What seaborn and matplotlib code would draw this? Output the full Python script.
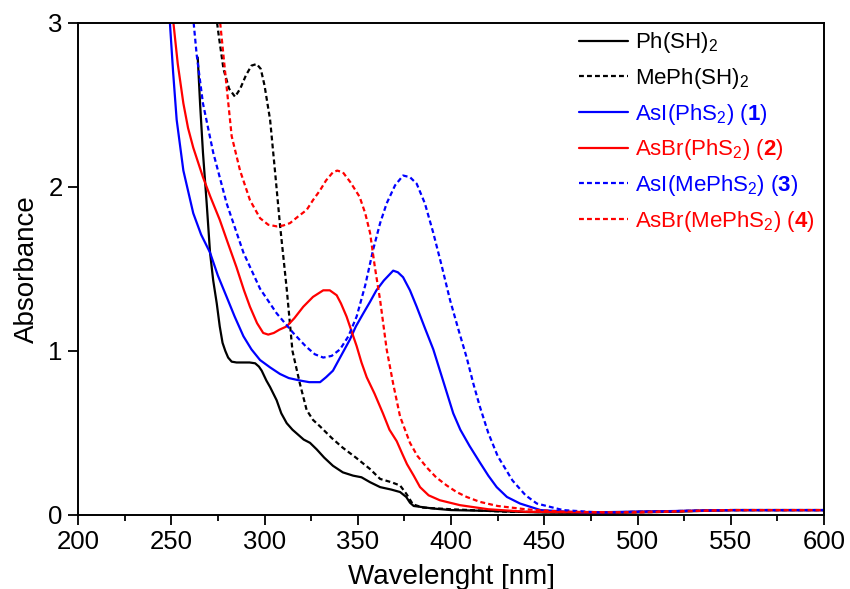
import pandas as pd
import matplotlib
matplotlib.use('Agg')
import matplotlib.pyplot as plt
import seaborn as sns

# 光谱数据
ph_x = [264.2, 265.5, 267, 269, 270.8, 272.5, 274.4, 276, 277.5, 279, 280.5, 282.4, 285, 288, 292, 295,
        297, 298.5, 301, 303, 306.5, 309, 311.9, 315, 318, 321, 324.4, 328, 332, 336.7, 342, 347.5, 352,
        356.6, 362, 368, 372.7, 376, 378, 380, 390, 400, 420, 450, 480, 520, 550, 600]
ph_y = [2.79, 2.5, 2.21, 1.9, 1.60, 1.43, 1.29, 1.15, 1.05, 1.0, 0.96, 0.935, 0.93, 0.93, 0.93, 0.925,
        0.905, 0.88, 0.82, 0.78, 0.70, 0.62, 0.56, 0.52, 0.49, 0.46, 0.44, 0.40, 0.35, 0.30, 0.26, 0.24, 0.23,
        0.20, 0.17, 0.155, 0.14, 0.11, 0.075, 0.055, 0.04, 0.03, 0.025, 0.015, 0.012, 0.02, 0.03, 0.03]

meph_x = [274, 275.5, 278, 281, 284.2, 287, 290, 293, 295.8, 298, 300, 303, 305.6, 308.3, 311.9, 315, 319,
          322.6, 326, 329.8, 336, 342, 349, 356.6, 362, 368, 372.7, 376, 379.6, 385, 400, 430, 480, 550, 600]
meph_y = [3.05, 2.92, 2.72, 2.6, 2.55, 2.6, 2.68, 2.74, 2.75, 2.72, 2.62, 2.41, 2.10, 1.77, 1.38, 1.0, 0.80,
          0.64, 0.58, 0.54, 0.47, 0.41, 0.35, 0.28, 0.22, 0.20, 0.18, 0.13, 0.065, 0.045, 0.035, 0.02, 0.015,
          0.03, 0.03]

c1_x = [249, 251, 252.9, 256.5, 261.8, 266, 270.8, 275, 279.7, 284, 288.7, 293, 297.6, 303, 308.3, 313, 319,
        324, 329.8, 333, 336.7, 341, 345.8, 349, 353, 356.6, 360, 364, 369, 371.5, 374.3, 378, 381.6, 386,
        390.5, 396, 401.2, 405, 410, 415.5, 420, 424.5, 430, 437, 448, 470, 550, 600]
c1_y = [3.05, 2.7, 2.41, 2.10, 1.84, 1.71, 1.60, 1.46, 1.33, 1.21, 1.09, 1.01, 0.945, 0.90, 0.86, 0.835, 0.82,
        0.81, 0.81, 0.84, 0.88, 0.97, 1.07, 1.15, 1.23, 1.30, 1.37, 1.43, 1.49, 1.48, 1.45, 1.37, 1.27, 1.14,
        1.01, 0.81, 0.62, 0.52, 0.42, 0.32, 0.24, 0.17, 0.11, 0.07, 0.03, 0.015, 0.03, 0.03]

c2_x = [250.7, 253.5, 256.5, 259, 261.8, 267, 271, 276, 280, 285, 289, 292.2, 296, 299.3, 302, 305, 308,
        311.9, 316, 320.8, 326, 331.5, 335, 338.7, 341, 344, 346.7, 349.4, 352, 354.8, 359, 363.5, 367,
        370.9, 374, 376.4, 380, 383.4, 388, 394, 404.8, 420, 440, 480, 550, 600]
c2_y = [3.05, 2.75, 2.51, 2.36, 2.24, 2.06, 1.94, 1.80, 1.67, 1.51, 1.37, 1.27, 1.17, 1.11, 1.10, 1.11, 1.13,
        1.15, 1.20, 1.27, 1.33, 1.37, 1.37, 1.34, 1.29, 1.21, 1.12, 1.03, 0.93, 0.84, 0.74, 0.62, 0.52,
        0.45, 0.37, 0.31, 0.24, 0.17, 0.12, 0.09, 0.06, 0.035, 0.02, 0.015, 0.03, 0.03]

c3_x = [261.6, 263.6, 267, 272.5, 279.7, 288.7, 297.6, 306.5, 315.4, 322, 327, 331.5, 336, 340.5, 345,
        349.4, 354, 358.3, 362, 365.5, 370, 374.3, 378, 381.6, 386, 390.5, 395, 399.5, 404, 408.4, 412,
        415.5, 420, 425, 433, 440, 446, 460, 480, 550, 600]
c3_y = [3.05, 2.81, 2.51, 2.21, 1.90, 1.60, 1.38, 1.23, 1.11, 1.03, 0.98, 0.96, 0.97, 1.01, 1.09,
        1.21, 1.40, 1.62, 1.78, 1.90, 2.01, 2.07, 2.06, 2.02, 1.90, 1.72, 1.52, 1.31, 1.13, 0.96, 0.80,
        0.66, 0.50, 0.36, 0.21, 0.12, 0.07, 0.03, 0.015, 0.03, 0.03]

c4_x = [275.8, 279.7, 282.4, 286.9, 292.2, 297.6, 302, 306.5, 310, 313.7, 318, 322.6, 326, 329.8, 333,
        336.7, 339, 342, 346, 351, 354, 356.6, 359.2, 362, 365.5, 369, 372.7, 378, 382, 387, 392, 397.7,
        403, 408.4, 415.5, 425, 440, 460, 500, 550, 600]
c4_y = [3.05, 2.61, 2.31, 2.10, 1.92, 1.81, 1.77, 1.76, 1.765, 1.78, 1.82, 1.86, 1.92, 1.98, 2.04,
        2.09, 2.10, 2.09, 2.03, 1.94, 1.84, 1.72, 1.51, 1.31, 1.01, 0.80, 0.60, 0.44, 0.36, 0.29, 0.23, 0.18,
        0.14, 0.11, 0.08, 0.055, 0.035, 0.02, 0.015, 0.03, 0.03]

labels = [r'Ph(SH)$_2$', r'MePh(SH)$_2$', r'AsI(PhS$_2$) ($\mathbf{1}$)', r'AsBr(PhS$_2$) ($\mathbf{2}$)',
          r'AsI(MePhS$_2$) ($\mathbf{3}$)', r'AsBr(MePhS$_2$) ($\mathbf{4}$)']
colors = ['black', 'black', '#0000ff', '#ff0000', '#0000ff', '#ff0000']
dotted = (0, (2.2, 1.4))
styles = ['-', dotted, '-', '-', dotted, dotted]
series = [(ph_x, ph_y), (meph_x, meph_y), (c1_x, c1_y), (c2_x, c2_y), (c3_x, c3_y), (c4_x, c4_y)]

sns.set_style('ticks')
plt.rcParams['font.family'] = ['Liberation Sans', 'DejaVu Sans']
plt.rcParams['mathtext.fontset'] = 'custom'
plt.rcParams['mathtext.rm'] = 'Liberation Sans'
plt.rcParams['mathtext.bf'] = 'Liberation Sans:bold'
plt.rcParams['mathtext.it'] = 'Liberation Sans:italic'
for k in ['text.color', 'axes.labelcolor', 'xtick.color', 'ytick.color', 'axes.edgecolor']:
    plt.rcParams[k] = 'black'

fig = plt.figure(figsize=(8.5, 5.89), dpi=100)
ax = fig.add_axes([78 / 850, 74 / 589, 746 / 850, 492 / 589])

for (xs, ys), lab, col, ls in zip(series, labels, colors, styles):
    sns.lineplot(x=xs, y=ys, ax=ax, color=col, linestyle=ls, linewidth=1.6, label=lab)

ax.set_xlim(200, 600)
ax.set_ylim(0, 3)
ax.set_xticks(range(200, 601, 50))
ax.set_xticks(range(225, 600, 50), minor=True)
ax.set_yticks([0, 1, 2, 3])
ax.tick_params(axis='both', which='major', labelsize=18.5, length=7, width=1.3, direction='out', pad=4)
ax.tick_params(axis='x', which='minor', length=4, width=1.3, direction='out')
for s in ax.spines.values():
    s.set_linewidth(1.4)
    s.set_visible(True)
ax.set_xlabel('Wavelenght [nm]', fontsize=20, labelpad=7)
ax.set_ylabel('Absorbance', fontsize=20, labelpad=6)

leg = ax.legend(loc='upper left', bbox_to_anchor=(0.672, 0.985), frameon=False, fontsize=16,
                handlelength=2.2, handletextpad=0.3, borderpad=0, borderaxespad=0, labelspacing=0.48)
for txt, col in zip(leg.get_texts(), colors):
    txt.set_color(col)

fig.savefig('out.png', dpi=100)
